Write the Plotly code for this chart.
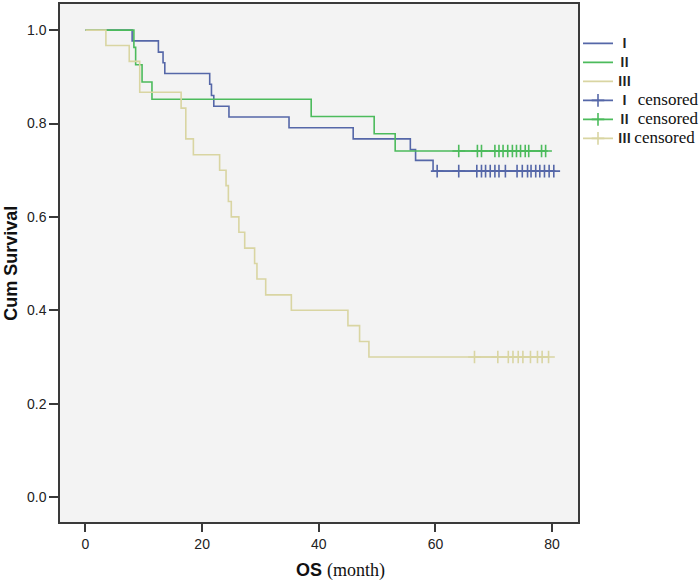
import plotly.graph_objects as go

# ---- data ----
groups = ["Ⅰ", "Ⅱ", "Ⅲ"]

I_times = [0, 8.0, 12.5, 13.3, 13.6, 21.3, 21.6, 22.0, 24.6, 34.9, 45.9, 55.7, 56.6, 59.6]
I_surv = [1.0, 0.977, 0.953, 0.930, 0.907, 0.884, 0.860, 0.837, 0.814, 0.791, 0.767, 0.744, 0.721, 0.698]
I_censor = [60.3, 64.0, 67.1, 67.9, 68.6, 69.4, 70.2, 70.9, 72.0, 74.0, 74.9, 75.8, 76.4, 77.2, 77.9, 78.7, 79.5, 80.3]

II_times = [0, 8.3, 8.6, 9.7, 11.4, 38.7, 49.5, 53.1]
II_surv = [1.0, 0.963, 0.926, 0.889, 0.852, 0.815, 0.778, 0.741]
II_censor = [64.0, 67.2, 67.9, 70.2, 70.9, 71.6, 72.4, 73.2, 73.9, 74.6, 75.4, 76.0, 78.2, 78.9]

III_times = [0, 3.5, 7.5, 9.3, 16.4, 17.2, 18.5, 23.0, 24.1, 24.5, 25.0, 26.3, 27.3, 29.0, 29.4, 30.9, 35.3, 45.0, 47.0, 48.6]
III_surv = [1.0, 0.967, 0.933, 0.867, 0.833, 0.767, 0.733, 0.700, 0.667, 0.633, 0.600, 0.567, 0.533, 0.500, 0.467, 0.433, 0.400, 0.367, 0.333, 0.300]
III_censor = [66.7, 70.7, 72.5, 73.3, 74.2, 75.0, 76.3, 77.5, 78.3, 79.4]

x_ticks = [0, 20, 40, 60, 80]
y_ticks = [0.0, 0.2, 0.4, 0.6, 0.8, 1.0]

colors = ["#5567a8", "#4cbb5c", "#d9d5a2"]

series = [
    (I_times, I_surv, I_censor),
    (II_times, II_surv, II_censor),
    (III_times, III_surv, III_censor),
]

NUM_FONT = "font-family:Noto Sans CJK SC;font-size:13px;font-weight:bold;color:#222"
SERIF = "font-family:Liberation Serif;font-size:17px;color:#111"

fig = go.Figure()

# survival curves
for name, (t, s, c), col in zip(groups, series, colors):
    xs = list(t) + [max(c)]
    ys = list(s) + [s[-1]]
    fig.add_trace(go.Scatter(
        x=xs, y=ys, mode="lines", line=dict(color=col, width=1.6, shape="hv"),
        name=f"<span style='{NUM_FONT}'>{name}</span>", hoverinfo="skip"))

# censored marks
pad = {"Ⅰ": "&nbsp;&nbsp;", "Ⅱ": "&nbsp;&nbsp;", "Ⅲ": "&nbsp;"}
for name, (t, s, c), col in zip(groups, series, colors):
    label = (f"<span style='{NUM_FONT}'>{name}</span>" + pad[name] +
             f"<span style='{SERIF}'>censored</span>")
    fig.add_trace(go.Scatter(
        x=c, y=[s[-1]] * len(c), mode="lines+markers",
        line=dict(color=col, width=1.6),
        marker=dict(symbol="cross-thin", size=9, color=col, line=dict(color=col, width=1.6)),
        name=label, hoverinfo="skip"))

axis_common = dict(
    showgrid=False, zeroline=False, showline=True, linecolor="#3a3a3a", linewidth=1.5,
    mirror=True, ticks="outside", tickcolor="#3a3a3a", tickwidth=1.5,
    tickfont=dict(family="Arial", size=14, color="#222"),
)

fig.update_layout(
    width=700, height=582,
    margin=dict(l=60, r=122, t=4, b=60, autoexpand=False),
    paper_bgcolor="white", plot_bgcolor="#f3f3f3",
    xaxis=dict(range=[-4.37, 84.45], tickvals=x_ticks, ticklen=8, **axis_common),
    yaxis=dict(range=[-0.0536, 1.056], tickvals=y_ticks, tickformat=".1f", ticklen=9, **axis_common),
    legend=dict(x=1.0, xanchor="left", y=0.952, yanchor="top", bgcolor="rgba(0,0,0,0)",
                font=dict(family="Arial", size=12, color="#222"), itemwidth=30,
                tracegroupgap=0),
    showlegend=True,
    annotations=[
        dict(text="<b>Cum Survival</b>", textangle=-90, xref="paper", yref="paper",
             x=-0.095, y=0.5, xanchor="center", yanchor="middle", showarrow=False,
             font=dict(family="Arial", size=18, color="#111")),
        dict(text="<b>OS</b> <span style='font-family:Liberation Serif;font-size:18px'>(month)</span>",
             xref="paper", yref="paper", x=0.541, y=-0.093, xanchor="center", yanchor="middle",
             showarrow=False, font=dict(family="Arial", size=18, color="#111")),
    ],
)

fig.write_html("out.html", config={"displayModeBar": False},
               post_script="document.body.style.margin='0px';document.body.style.overflow='hidden';")
